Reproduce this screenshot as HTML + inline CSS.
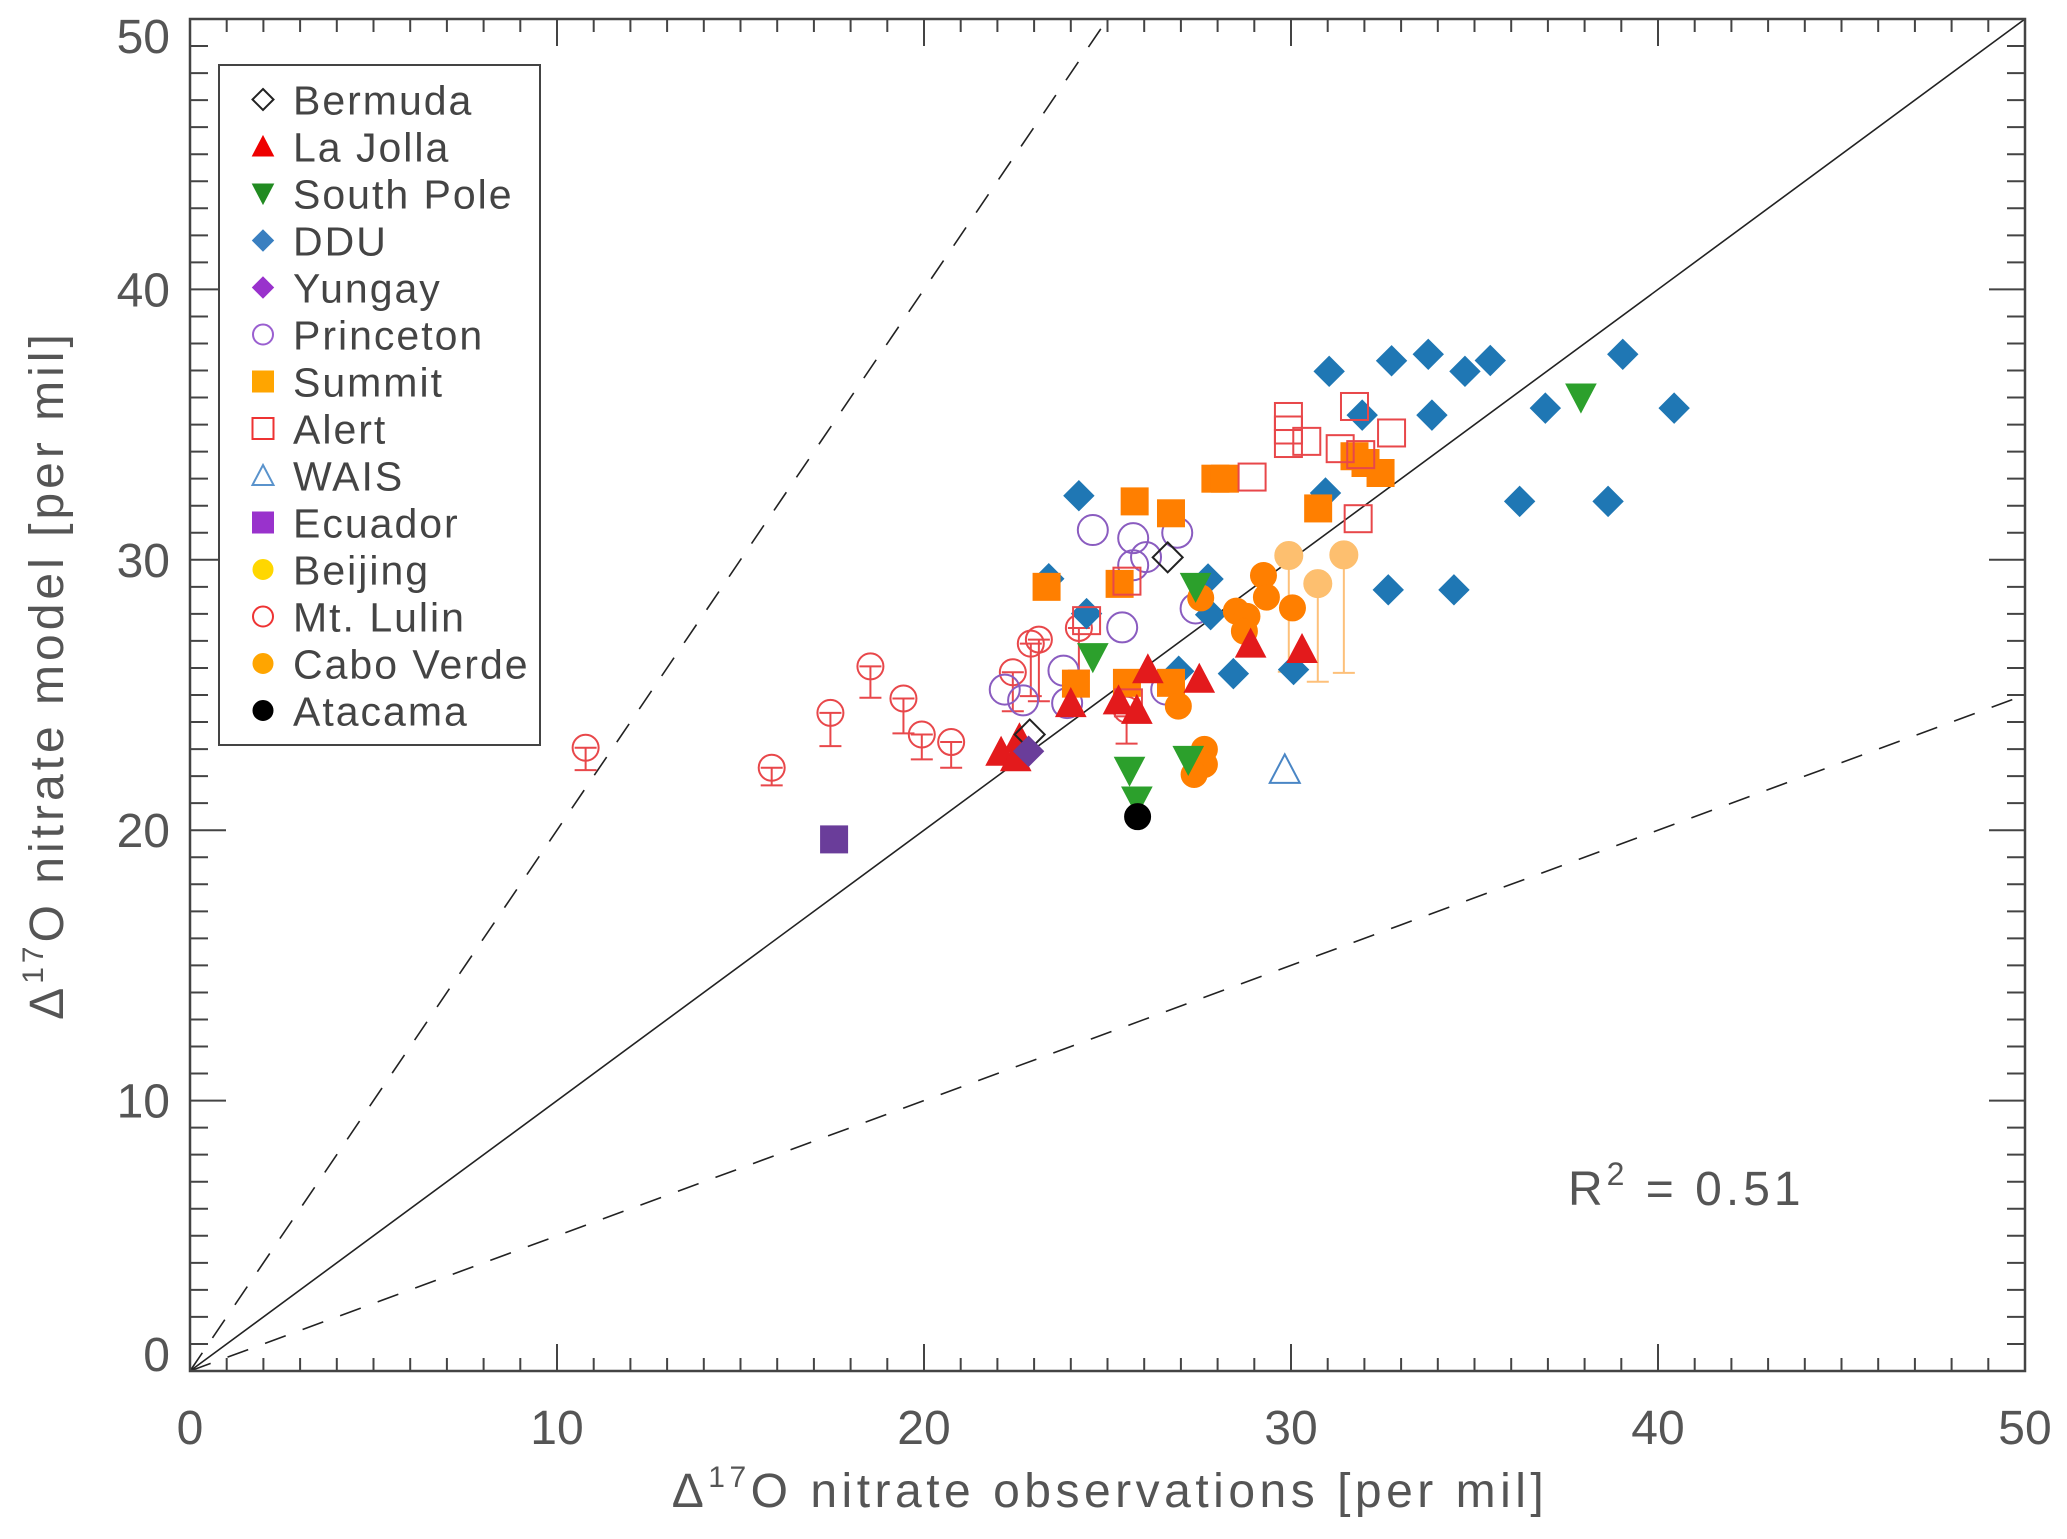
<!DOCTYPE html>
<html><head><meta charset="utf-8"><style>
html,body{margin:0;padding:0;background:#fff;}
svg{display:block;font-family:"Liberation Sans",sans-serif;}
</style></head><body>
<svg id="chart" width="2067" height="1539" viewBox="0 0 2067 1539" xmlns="http://www.w3.org/2000/svg">
<rect x="0" y="0" width="2067" height="1539" fill="#fff"/>
<g id="grid-lines"></g>
<g id="marks"></g>
<g id="axes"></g>
<g id="legend"></g>
<text x="1568" y="1205" font-size="48" fill="#555" letter-spacing="4">R<tspan dy="-20" font-size="32">2</tspan><tspan dy="20"> = 0.51</tspan></text>
<text x="1110" y="1507" font-size="48" fill="#555" text-anchor="middle" letter-spacing="4.5">Δ<tspan dy="-20" font-size="30">17</tspan><tspan dy="20">O nitrate observations [per mil]</tspan></text>
<text transform="translate(63,675) rotate(-90)" x="0" y="0" font-size="48" fill="#555" text-anchor="middle" letter-spacing="4">Δ<tspan dy="-20" font-size="30">17</tspan><tspan dy="20">O nitrate model [per mil]</tspan></text>
</svg>
<script>
const xTicks = [0,10,20,30,40,50];
const yTicks = [0,10,20,30,40,50];
const bermudaX = [26.64, 22.88];
const bermudaY = [30.09, 23.54];
const laJollaX = [28.9,30.3,26.1,27.5,24.0,25.3,25.8,22.6,22.1,22.5];
const laJollaY = [26.9,26.7,25.95,25.6,24.7,24.8,24.45,23.4,22.9,22.7];
const southPoleX = [37.9,24.6,25.6,25.8,27.2,27.4];
const southPoleY = [36.0,26.4,22.2,21.1,22.6,29.0];
const dduX = [31.04,32.74,33.74,34.74,35.43,39.04,31.94,33.84,36.93,40.44,24.22,30.94,36.23,38.64,23.4,27.74,32.65,34.44,24.43,27.81,26.94,28.43,30.07];
const dduY = [36.97,37.36,37.6,36.97,37.37,37.6,35.35,35.35,35.61,35.61,32.37,32.47,32.16,32.16,29.3,29.29,28.89,28.89,28.01,27.97,25.88,25.79,25.94];
const yungayX = [22.85];
const yungayY = [22.92];
const princetonX = [24.6,25.7,26.9,26.05,25.7,25.4,27.4,23.8,23.9,26.6,22.2,22.7];
const princetonY = [31.1,30.8,31.0,30.1,29.8,27.5,28.2,25.9,24.7,25.2,25.2,24.8];
const summitX = [27.94,28.2,25.74,26.73,30.74,31.73,32.03,32.44,23.34,25.33,24.14,25.53,26.73];
const summitY = [33.0,33.0,32.16,31.72,31.9,33.83,33.58,33.21,29.0,29.11,25.42,25.45,25.45];
const alertX = [29.93,29.93,29.93,30.43,31.34,31.73,31.9,32.74,28.94,31.83,25.53,24.43,25.57];
const alertY = [35.3,34.8,34.3,34.38,34.11,35.67,33.89,34.69,33.06,31.52,29.21,27.75,24.71];
const waisX = [29.83];
const waisY = [22.25];
const ecuadorX = [17.55];
const ecuadorY = [19.66];
const lulinX = [10.78,15.85,17.45,18.54,19.44,19.94,20.74,22.42,22.91,23.13,24.22,25.52];
const lulinY = [23.05,22.31,24.34,26.06,24.87,23.54,23.26,25.84,26.9,27.05,27.48,24.46];
const lulinLow = [22.22,21.66,23.11,24.9,23.58,22.62,22.31,24.4,24.96,24.77,25.9,23.2];
const caboX = [27.54,29.25,29.33,30.04,28.51,28.8,28.73,26.93,27.64,27.64,27.36];
const caboY = [28.59,29.42,28.62,28.22,28.1,27.91,27.36,24.59,22.99,22.43,22.06];
const caboLightX = [29.94,30.73,31.44];
const caboLightY = [30.16,29.12,30.18];
const caboLightLow = [25.86,25.49,25.82];
const atacamaX = [25.82];
const atacamaY = [20.5];
const legendNames = ["Bermuda","La Jolla","South Pole","DDU","Yungay","Princeton","Summit","Alert","WAIS","Ecuador","Beijing","Mt. Lulin","Cabo Verde","Atacama"];

const NS="http://www.w3.org/2000/svg";
const L=190,R=2025,T=19,B=1371;
const sx=v=>L+(v/50)*(R-L);
const sy=v=>B-(v/50)*(B-T);
function mk(tag,attrs,parent){const e=document.createElementNS(NS,tag);for(const k in attrs)e.setAttribute(k,attrs[k]);parent.appendChild(e);return e;}
const gLines=document.getElementById('grid-lines'),gM=document.getElementById('marks'),gA=document.getElementById('axes'),gL=document.getElementById('legend');

let ln=mk('line',{x1:sx(0),y1:sy(0),x2:sx(50),y2:sy(50),stroke:'#222','stroke-width':1.6},gLines);


ln=mk('line',{x1:sx(0),y1:sy(0),x2:sx(25),y2:sy(50),stroke:'#222','stroke-width':1.6,'stroke-dasharray':'22 18'},gLines);


ln=mk('line',{x1:sx(0),y1:sy(0),x2:sx(50),y2:sy(25),stroke:'#222','stroke-width':1.6,'stroke-dasharray':'22 18'},gLines);



function shape(type,cx,cy,s,fill,stroke,parent){
  let e;
  if(type==='diamond'){e=mk('polygon',{points:`${cx},${cy-s} ${cx+s},${cy} ${cx},${cy+s} ${cx-s},${cy}`},parent);}
  else if(type==='up'){e=mk('polygon',{points:`${cx},${cy-s} ${cx+s},${cy+s*0.9} ${cx-s},${cy+s*0.9}`},parent);}
  else if(type==='down'){e=mk('polygon',{points:`${cx-s},${cy-s*0.9} ${cx+s},${cy-s*0.9} ${cx},${cy+s}`},parent);}
  else if(type==='square'){e=mk('rect',{x:cx-s,y:cy-s,width:2*s,height:2*s},parent);}
  else {e=mk('circle',{cx:cx,cy:cy,r:s},parent);}
  e.setAttribute('fill',fill);e.setAttribute('stroke',stroke);e.setAttribute('stroke-width',fill==='none'?2:1);
  return e;
}
function series(name,xs,ys,type,s,fill,stroke){
  const g=mk('g',{},gM);
  
  
  xs.forEach((x,i)=>{const e=shape(type,sx(x),sy(ys[i]),s,fill,stroke,g);
    
    });
}
function errbars(name,xs,ys,lows,color){
  const g=mk('g',{stroke:color,'stroke-width':2},gM);
  
  
  xs.forEach((x,i)=>{const X=sx(x),Y=sy(ys[i]),Yl=sy(lows[i]);
    mk('line',{x1:X,y1:Y,x2:X,y2:Yl},g);mk('line',{x1:X-11,y1:Y,x2:X+11,y2:Y},g);mk('line',{x1:X-11,y1:Yl,x2:X+11,y2:Yl},g);});
}
errbars('cabo-verde-light',caboLightX,caboLightY,caboLightLow,'#fdc07a');
series('cabo-verde-light',caboLightX,caboLightY,'circle',14,'#fdbf6f','#fdbf6f');
errbars('mt-lulin',lulinX,lulinY,lulinLow,'#e8474a');
series('mt-lulin',lulinX,lulinY,'circle',13,'none','#e8474a');
series('princeton',princetonX,princetonY,'circle',15,'none','#8a5cc0');
series('ddu',dduX,dduY,'diamond',15,'#1f77b4','#1f77b4');
series('summit',summitX,summitY,'square',13.5,'#ff7f00','#ff7f00');
series('alert',alertX,alertY,'square',13.5,'none','#e8474a');
series('cabo-verde',caboX,caboY,'circle',13,'#ff7f00','#ff7f00');
series('south-pole',southPoleX,southPoleY,'down',15,'#2ca02c','#2ca02c');
series('la-jolla',laJollaX,laJollaY,'up',15,'#e31a1c','#e31a1c');
series('bermuda',bermudaX,bermudaY,'diamond',15,'none','#222');
series('yungay',yungayX,yungayY,'diamond',15,'#6a3d9a','#6a3d9a');
series('wais',waisX,waisY,'up',15,'none','#4a86c5');
series('ecuador',ecuadorX,ecuadorY,'square',13.5,'#6a3d9a','#6a3d9a');
series('atacama',atacamaX,atacamaY,'circle',13,'#000','#000');

const fr=mk('rect',{x:L,y:T,width:R-L,height:B-T,fill:'none',stroke:'#444','stroke-width':2.5},gA);


for(let v=0;v<=50;v++){
  const maj=v%10===0;
  const X=sx(v),Y=sy(v);
  const lx=maj?27:13, ly=maj?36:18;
  mk('line',{x1:X,y1:B,x2:X,y2:B-lx,stroke:'#444','stroke-width':2},gA);
  mk('line',{x1:X,y1:T,x2:X,y2:T+lx,stroke:'#444','stroke-width':2},gA);
  mk('line',{x1:L,y1:Y,x2:L+ly,y2:Y,stroke:'#444','stroke-width':2},gA);
  mk('line',{x1:R,y1:Y,x2:R-ly,y2:Y,stroke:'#444','stroke-width':2},gA);
}
xTicks.forEach(v=>{const t=mk('text',{x:sx(v),y:1444,'font-size':48,fill:'#555','text-anchor':'middle'},gA);t.textContent=v;
  
  });
yTicks.forEach(v=>{
  let off=17;
  if(v===0) off=0;
  if(v===50) off=34;
  const t=mk('text',{x:170,y:sy(v)+off,'font-size':48,fill:'#555','text-anchor':'end'},gA);t.textContent=v;
  
  });

const lb=mk('rect',{x:219,y:65,width:321,height:680,fill:'#fff',stroke:'#444','stroke-width':2},gL);


const legShapes=[['diamond','none','#222'],['up','#e00','#e00'],['down','#228b22','#228b22'],['diamond','#3a7fc0','#3a7fc0'],['diamond','#9932cc','#9932cc'],['circle','none','#9a5fd0'],['square','#ffa500','#ffa500'],['square','none','#e33'],['up','none','#5a93cc'],['square','#9932cc','#9932cc'],['circle','#ffd700','#ffd700'],['circle','none','#e33'],['circle','#ffa500','#ffa500'],['circle','#000','#000']];
legendNames.forEach((n,i)=>{
  const y=99.5+i*47;
  const g=mk('g',{},gL);
  
  
  const sp=legShapes[i];
  shape(sp[0],263,y,sp[0]==='circle'?10:10.5,sp[1],sp[2],g);
  const t=mk('text',{x:293,y:y+15,'font-size':41,fill:'#444','letter-spacing':2},g);t.textContent=n;
});
</script>
</body></html>
